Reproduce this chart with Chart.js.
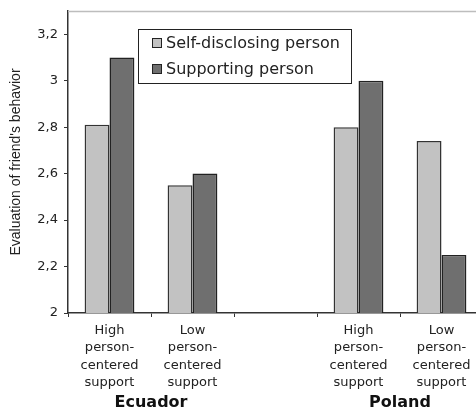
<!DOCTYPE html>
<html>
<head>
<meta charset="utf-8">
<script src="https://cdn.jsdelivr.net/npm/chart.js@4"></script>
<style>
  html, body { margin: 0; padding: 0; background: #fff; overflow: hidden; }
  #wrap { width: 486px; height: 411px; }
</style>
</head>
<body>
<div id="wrap"><canvas id="c"></canvas></div>
<script>
// categories (empty slot separates the two countries)
const categories = [
    ['High', 'person-', 'centered', 'support'],
    ['Low', 'person-', 'centered', 'support'],
    '',
    ['High', 'person-', 'centered', 'support'],
    ['Low', 'person-', 'centered', 'support']
];
const groups = ['Ecuador', 'Poland'];
const groupMembers = [[0, 1], [3, 4]];

const selfDisclosing = [2.81, 2.55, null, 2.80, 2.74];
const supporting = [3.10, 2.60, null, 3.00, 2.25];
const yTicks = [2, 2.2, 2.4, 2.6, 2.8, 3, 3.2];

const FONT = '"DejaVu Sans", Verdana, sans-serif';
const FONT_NARROW = '"Liberation Sans", Arial, sans-serif';

// top border + legend + country names
const extras = {
    id: 'extras',
    afterDraw(chart) {
        const ctx = chart.ctx;
        const area = chart.chartArea;
        const x = chart.scales.x;

        ctx.save();
        ctx.strokeStyle = '#bdbdbd';
        ctx.lineWidth = 1.5;
        ctx.beginPath();
        ctx.moveTo(area.left, area.top + 0.5);
        ctx.lineTo(area.right, area.top + 0.5);
        ctx.stroke();

        // legend
        ctx.fillStyle = '#fff';
        ctx.strokeStyle = '#222';
        ctx.lineWidth = 1;
        ctx.fillRect(138, 29, 213, 54);
        ctx.strokeRect(138.5, 29.5, 213, 54);
        ctx.font = '16px ' + FONT;
        ctx.textBaseline = 'middle';
        chart.data.datasets.forEach((ds, i) => {
            const cy = 43 + i * 26;
            ctx.fillStyle = ds.backgroundColor;
            ctx.fillRect(152, cy - 5, 10, 10);
            ctx.strokeStyle = '#222';
            ctx.strokeRect(152.5, cy - 4.5, 9, 9);
            ctx.fillStyle = '#222';
            ctx.fillText(ds.label, 166, cy + 1);
        });

        // country names
        ctx.font = 'bold 16px ' + FONT;
        ctx.textAlign = 'center';
        ctx.fillStyle = '#111';
        groups.forEach((g, i) => {
            const m = groupMembers[i];
            const cx = (x.getPixelForValue(m[0]) + x.getPixelForValue(m[1])) / 2;
            ctx.fillText(g, cx, 403);
        });
        ctx.restore();
    }
};

new Chart(document.getElementById('c'), {
    type: 'bar',
    data: {
        labels: categories,
        datasets: [{
            label: 'Self-disclosing person',
            data: selfDisclosing,
            backgroundColor: '#c2c2c2',
            borderColor: '#333',
            borderWidth: 1.5
        }, {
            label: 'Supporting person',
            data: supporting,
            backgroundColor: '#6f6f6f',
            borderColor: '#222',
            borderWidth: 1.5
        }]
    },
    options: {
        responsive: true,
        maintainAspectRatio: false,
        animation: false,
        layout: { padding: { top: 11, right: 3, left: 0, bottom: 0 } },
        plugins: {
            legend: { display: false },
            tooltip: { enabled: false }
        },
        datasets: {
            bar: { barPercentage: 1, categoryPercentage: 0.6 }
        },
        scales: {
            x: {
                grid: { display: true, drawOnChartArea: false, offset: true, color: '#333', tickLength: 4 },
                border: { color: '#333', width: 1.5 },
                ticks: {
                    maxRotation: 0,
                    autoSkip: false,
                    padding: 5,
                    color: '#222',
                    font: { family: FONT, size: 13, lineHeight: 1.33 }
                },
                afterFit(scale) { scale.height = 98; }
            },
            y: {
                min: 2,
                max: 3.3,
                grid: { display: true, drawOnChartArea: false, color: '#333', tickLength: 4 },
                border: { color: '#333', width: 1.5 },
                afterBuildTicks(scale) { scale.ticks = yTicks.map(v => ({ value: v })); },
                ticks: {
                    padding: 6,
                    color: '#222',
                    font: { family: FONT, size: 13 },
                    callback: v => Number(v.toFixed(1)).toString().replace('.', ',')
                },
                title: {
                    display: true,
                    text: "Evaluation of friend's behavior",
                    color: '#222',
                    font: { family: FONT_NARROW, size: 14 },
                    padding: { top: 8, bottom: 0 }
                },
                afterFit(scale) {
                    scale.width = 68;
                    scale.paddingTop = 0;
                    scale.paddingBottom = 0;
                }
            }
        }
    },
    plugins: [extras]
});
</script>
</body>
</html>
